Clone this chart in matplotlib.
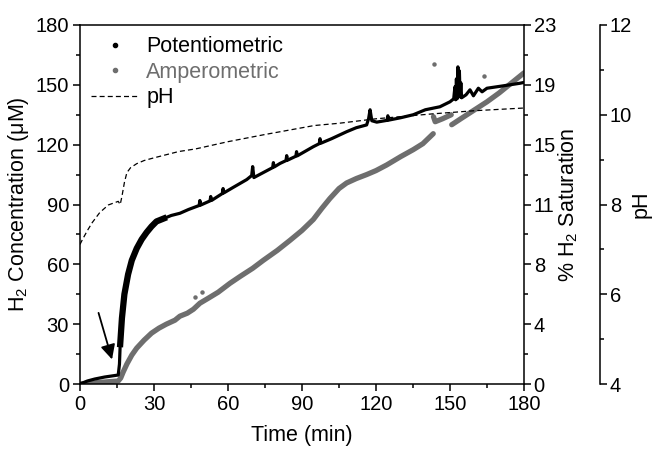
import numpy as np
import matplotlib
matplotlib.use("Agg")
import matplotlib.pyplot as plt
from matplotlib.lines import Line2D

plt.rcParams['font.family'] = ['Liberation Sans', 'DejaVu Sans']
plt.rcParams['mathtext.fontset'] = 'custom'
plt.rcParams['mathtext.rm'] = 'Liberation Sans'
plt.rcParams['mathtext.it'] = 'Liberation Sans:italic'
plt.rcParams['mathtext.bf'] = 'Liberation Sans:bold'

# ---------------- data ----------------
pot_t = [0, 3, 6, 10, 15.5, 16.0, 16.3, 17.0, 18.0, 19.5, 21.0, 23.0, 25.0, 27.0, 29.0, 31.0,
         34.0, 37.0, 40.5, 44.0, 48.3, 48.6, 48.9, 52.7, 53.0, 53.3, 57.7, 58.0, 58.3, 62.0,
         67.6, 69.6, 70.0, 70.5, 72.0, 78.1, 78.4, 78.7, 81.1, 83.5, 83.8, 84.1, 87.5, 87.8,
         88.1, 94.6, 97.0, 97.3, 97.6, 102, 108.1, 112, 116.2, 117.0, 117.6, 118.3, 120.3,
         124.5, 124.8, 125.1, 130, 135.1, 140, 145.9, 150, 151.5, 152.0, 152.3, 152.6, 152.9,
         153.2, 153.5, 153.8, 154.1, 154.4, 154.7, 156.5, 158.1, 159.5, 161.5, 163, 165,
         171.6, 178.4, 180]
pot_c = [0, 1.5, 2.5, 3.5, 4.5, 10, 20, 33, 45, 55, 62, 68, 72.5, 76, 79, 81.5,
         83, 84.5, 85.6, 87.5, 89.5, 92, 89.7, 91.8, 94, 92, 95.5, 98, 95.8, 98.5,
         102.5, 104.5, 109, 103.5, 104.5, 108.5, 111, 108.8, 110.6, 112, 114.5, 112.2, 114.2, 116.5,
         114.4, 119, 120.5, 123, 120.7, 123, 126.5, 128.5, 129.9, 133, 137.5, 132, 131.3,
         132.2, 134.5, 132.3, 133.5, 135, 137.5, 139, 141.5, 143, 149, 142.5, 153, 143,
         159, 144, 157, 144, 151, 143.5, 145, 147.5, 144.5, 148.3, 146.5, 148.3,
         149.5, 150.8, 151.2]

amp_t = [0, 5, 10, 15.5, 16.5, 17.5, 19, 21, 23, 26, 29, 32, 35, 38.5, 40.5, 43.5, 46, 48.6,
         52, 56, 60.8, 65, 70, 74.3, 80, 85.1, 90, 94.6, 98, 101.3, 105, 108.1, 112, 116.2,
         120, 124.3, 130, 135.1, 139, 143.2, np.nan, 143.3, 144, 147, 150.5, np.nan,
         150.7, 155, 160, 165, 170, 175, 180]
amp_c = [0, 0.5, 1, 1.5, 3, 6, 10, 14.5, 18, 22, 25.5, 28, 30, 32, 34, 35.5, 37.5, 40.5,
         43, 46, 50.5, 54, 58, 62, 67, 72, 77, 82.5, 88, 93, 98, 100.8, 103, 105,
         107, 109.8, 114, 117.5, 120.5, 125.5, np.nan, 134, 131.5, 133, 135, np.nan,
         130, 133.5, 137.5, 141.5, 146, 151, 156]
amp_out_t = [46.6, 49.3, 143.5, 163.8]
amp_out_c = [43.5, 46.0, 160.3, 154.6]

ph_t = [0, 1, 3, 5, 8, 11.5, 15.5, 16.3, 17, 18, 19, 20.5, 23, 26, 30, 35, 40, 47, 60, 75,
        95, 105, 120, 143, 160, 180]
ph_v = [7.11, 7.22, 7.42, 7.60, 7.82, 7.99, 8.07, 8.00, 8.18, 8.49, 8.71, 8.82, 8.91, 8.98,
        9.04, 9.11, 9.18, 9.24, 9.40, 9.56, 9.76, 9.81, 9.91, 10.02, 10.09, 10.15]

conc_ticks = [0, 30, 60, 90, 120, 150, 180]
sat_labels = ['0', '4', '8', '11', '15', '19', '23']
ph_ticks = [4, 6, 8, 10, 12]
time_ticks = [0, 30, 60, 90, 120, 150, 180]

# ---------------- figure ----------------
GRAY = '#6e6e6e'
fig = plt.figure(figsize=(6.55, 4.5), dpi=100)
ax = fig.add_axes([80/655, 1-384/450, 444/655, 359/450])

pot_t_a = np.array(pot_t); pot_c_a = np.array(pot_c)
ax.plot(amp_t, amp_c, color=GRAY, lw=3.8, solid_capstyle='round', zorder=2)
ax.plot(amp_out_t, amp_out_c, ls='none', marker='o', ms=2.2, color=GRAY, zorder=2)
ax.plot(pot_t, pot_c, color='black', lw=2.3, zorder=3)
m = (pot_t_a >= 16.3) & (pot_t_a <= 34)
ax.plot(pot_t_a[m], pot_c_a[m], color='black', lw=4.5, zorder=3)

ax.annotate('', xy=(13.3, 11), xytext=(7.2, 37),
            arrowprops=dict(arrowstyle='-|>', color='black', lw=1.3, mutation_scale=22))

ax.set_xlim(0, 180)
ax.set_ylim(0, 180)
ax.set_xticks(time_ticks)
ax.set_xticks([15, 45, 75, 105, 135, 165], minor=True)
ax.set_yticks(conc_ticks)
ax.set_yticks([15, 45, 75, 105, 135, 165], minor=True)
ax.spines['right'].set_visible(False)
for s in ax.spines.values():
    s.set_linewidth(1.1)
ax.tick_params(which='major', direction='out', length=5, width=1.1, labelsize=14.5, pad=3)
ax.tick_params(which='minor', direction='out', length=3, width=1.1)
ax.set_xlabel('Time (min)', fontsize=15.5, labelpad=8)
ax.set_ylabel('H$_2$ Concentration (μM)', fontsize=15.5, labelpad=3)

# saturation axis
ax_sat = ax.twinx()
ax_sat.set_ylim(0, 180)
ax_sat.set_yticks(conc_ticks)
ax_sat.set_yticklabels(sat_labels)
ax_sat.set_yticks([15, 45, 75, 105, 135, 165], minor=True)
for k in ['top', 'bottom', 'left']:
    ax_sat.spines[k].set_visible(False)
ax_sat.spines['right'].set_linewidth(1.1)
ax_sat.tick_params(which='major', direction='out', length=5, width=1.1, labelsize=14.5, pad=2)
ax_sat.tick_params(which='minor', direction='out', length=3, width=1.1)
ax_sat.set_ylabel('% H$_2$ Saturation', fontsize=15.5, labelpad=0)

# pH axis
ax_ph = ax.twinx()
ax_ph.spines['right'].set_position(('axes', 1 + 76/444))
for k in ['top', 'bottom', 'left']:
    ax_ph.spines[k].set_visible(False)
ax_ph.spines['right'].set_linewidth(1.1)
ax_ph.set_ylim(4, 12)
ax_ph.set_yticks(ph_ticks)
ax_ph.set_yticks([5, 7, 9, 11], minor=True)
ax_ph.tick_params(which='major', direction='out', length=5, width=1.1, labelsize=14.5, pad=2)
ax_ph.tick_params(which='minor', direction='out', length=3, width=1.1)
ax_ph.set_ylabel('pH', fontsize=15.5, labelpad=-1)
ax_ph.plot(ph_t, ph_v, color='black', lw=0.9, ls=(0, (4, 2.5)))

handles = [Line2D([], [], ls='none', marker='o', ms=3, color='black'),
           Line2D([], [], ls='none', marker='o', ms=3, color=GRAY),
           Line2D([], [], color='black', lw=0.9, ls=(0, (4, 2.5)))]
leg = ax_ph.legend(handles, ['Potentiometric', 'Amperometric', 'pH'], loc='upper left',
                   bbox_to_anchor=(0.0, 1.0), frameon=False, fontsize=15.5,
                   handlelength=2.2, handletextpad=0.35, labelspacing=0.21,
                   borderaxespad=0.33, borderpad=0.2)
leg.get_texts()[1].set_color(GRAY)

fig.savefig('out.png', dpi=100)
